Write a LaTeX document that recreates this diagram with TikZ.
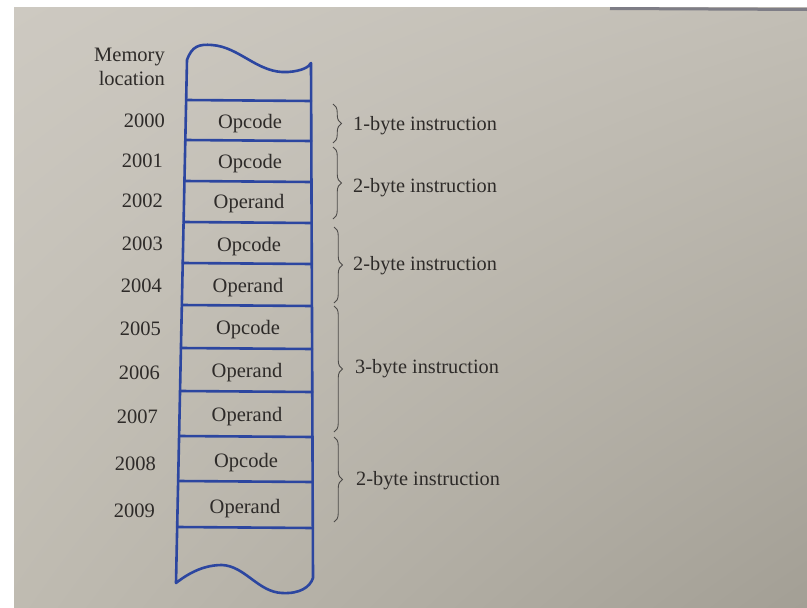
\documentclass[tikz,border=0pt]{standalone}
\usepackage{fontspec}
\setmainfont{Liberation Serif}
\usetikzlibrary{calc,decorations.pathreplacing,shadings}
\definecolor{paperUL}{HTML}{CDC9C1}
\definecolor{paperUR}{HTML}{C2BEB5}
\definecolor{paperLL}{HTML}{BFBBB1}
\definecolor{paperLR}{HTML}{A39F95}
\definecolor{ink}{HTML}{2E2B29}
\definecolor{memblue}{HTML}{2C46A0}
\definecolor{pageedge}{HTML}{7E7D86}
\tikzset{
  mem/.style={draw=memblue, line width=2.6pt, line join=round, line cap=round},
  addr/.style={anchor=base east, inner sep=0pt, text=ink, font=\fontsize{20.5}{22}\selectfont},
  cell/.style={anchor=base, inner sep=0pt, text=ink, font=\fontsize{20.5}{22}\selectfont},
  grouplabel/.style={anchor=base west, inner sep=0pt, text=ink, font=\fontsize{20.3}{22}\selectfont},
  groupbrace/.style={draw=ink!85, line width=0.9pt, decorate,
    decoration={brace, amplitude=8.5pt}},
}
\begin{document}
\begin{tikzpicture}[x=1pt, y=-1pt]
\useasboundingbox (0,0) rectangle (807,608);
% page background
\fill[white] (0,0) rectangle (807,608);
\shade[upper left=paperUL, upper right=paperUR, lower left=paperLL, lower right=paperLR]
  (14,7) rectangle (807,608);
\draw[pageedge, line width=3pt] (610,8.5) -- (807,9.5);

% memory column outline with torn top and bottom
\coordinate (tl) at (187,60);
\coordinate (tr) at (311,63);
\coordinate (br) at (313,578);
\coordinate (bl) at (176,583);
\draw[mem] (tl) .. controls (192,46) and (199,44) .. (212,45)
  .. controls (240,47) and (258,74) .. (288,72)
  .. controls (302,71) and (309,67) .. (tr)
  -- (br)
  .. controls (310,587) and (300,594) .. (282,593)
  .. controls (258,592) and (245,566) .. (222,565)
  .. controls (205,565) and (190,572) .. (bl)
  -- cycle;

% cell boundaries
\foreach \yy [count=\i] in {100,140,181,222,263,305,348,391,436,481,527} {
  \pgfmathsetmacro\xl{187-0.021*(\yy-60)}
  \pgfmathsetmacro\xr{311+0.0039*(\yy-63)}
  \coordinate (L\i) at (\xl,\yy);
  \coordinate (R\i) at (\xr,\yy+1);
  \draw[mem] (L\i) -- (R\i);
}

% column heading
\node[addr] (head1) at (165,61) {Memory};
\node[addr] (head2) at (165,85) {location};

% addresses
\foreach \t/\x/\b [count=\i from 0] in
  {2000/165/127, 2001/163/167, 2002/163/207, 2003/163/250, 2004/162/292,
   2005/161/335, 2006/160/379, 2007/158/423, 2008/156/470, 2009/155/517}
  \node[addr] (a\i) at (\x,\b) {\t};

% cell contents
\foreach \t/\x/\b [count=\i from 0] in
  {Opcode/250/128, Opcode/250/168, Operand/249/208, Opcode/249/251, Operand/248/292,
   Opcode/248/334, Operand/247/377, Operand/247/421, Opcode/246/467, Operand/245/513}
  \node[cell] (c\i) at (\x,\b) {\t};

% instruction groups
\foreach \top/\bot/\bx/\lx/\lb/\t [count=\i] in
  {104/143/333/353/130/1-byte instruction,
   147/219/333/353/192/2-byte instruction,
   227/303/334/353/270/2-byte instruction,
   306/432/334/355/373/3-byte instruction,
   437/522/334/356/485/2-byte instruction} {
  \coordinate (bt\i) at (\bx,\top);
  \coordinate (bb\i) at (\bx,\bot);
  \draw[groupbrace] (bt\i) -- (bb\i);
  \node[grouplabel] (g\i) at (\lx,\lb) {\t};
}
\end{tikzpicture}
\end{document}
